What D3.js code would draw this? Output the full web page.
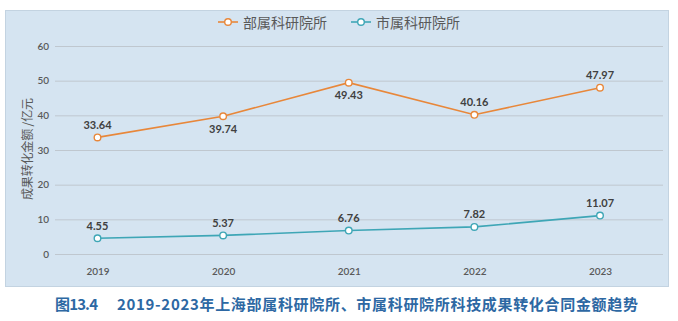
<!DOCTYPE html>
<html><head><meta charset="utf-8">
<script src="https://cdn.jsdelivr.net/npm/d3@7"></script>
<style>body{margin:0;background:#fff;}svg{display:block;}</style>
</head><body>
<svg id="c" width="678" height="321"></svg>
<script>
const years = ["2019","2020","2021","2022","2023"];
const ministryValues = [33.64, 39.74, 49.43, 40.16, 47.97];
const municipalValues = [4.55, 5.37, 6.76, 7.82, 11.07];
const seriesNames = ["部属科研院所", "市属科研院所"];
const yTicks = [0,10,20,30,40,50,60];
const yTitle = "成果转化金额 /亿元";
const captionNo = "图13.4";
const caption = "2019-2023年上海部属科研院所、市属科研院所科技成果转化合同金额趋势";
const ministryLabelPos = ["above","below","below","above","above"];

const svg = d3.select("#c");
const font = "'Noto Sans CJK SC', 'Open Sans', sans-serif";
const numFont = "Lato, 'Open Sans', sans-serif";
const orange = "#e8873a", teal = "#3ea6b6";

svg.append("rect").attr("x",5.5).attr("y",10.5).attr("width",663).attr("height",276)
  .attr("fill","#d5e4f1").attr("stroke","#c3d3e1");

const x = d3.scalePoint().domain(years).range([97.5, 600]);
const y = d3.scaleLinear().domain([0,60]).range([254,46]);

// gridlines
svg.append("g").selectAll("line").data(yTicks).join("line")
  .attr("x1",55).attr("x2",663).attr("y1",d=>y(d)+0.5).attr("y2",d=>y(d)+0.5)
  .attr("stroke","#bfc7cf").attr("stroke-width",1);

// y axis
const ya = svg.append("g").attr("transform","translate(49,0)")
  .call(d3.axisLeft(y).tickValues(yTicks).tickSize(0).tickPadding(0));
ya.select(".domain").remove();
ya.selectAll("text").attr("font-family",numFont).attr("font-size",10).attr("font-weight",600).attr("fill","#595959");

// x axis
const xa = svg.append("g").attr("transform","translate(0,268)")
  .call(d3.axisBottom(x).tickSize(0).tickPadding(0));
xa.select(".domain").remove();
xa.selectAll("text").attr("font-family",numFont).attr("font-size",10).attr("font-weight",600).attr("fill","#595959");

// y title
svg.append("text").attr("transform","translate(26,149) rotate(-90)")
  .attr("text-anchor","middle").attr("dominant-baseline","central")
  .attr("font-family",font).attr("font-size",12).attr("fill","#595959")
  .attr("textLength",102).attr("lengthAdjust","spacing").text(yTitle);

const line = d3.line().x((d,i)=>x(years[i])).y(d=>y(d));
function drawSeries(vals,color,pos){
  svg.append("path").datum(vals).attr("d",line).attr("fill","none").attr("stroke",color).attr("stroke-width",1.6);
  svg.append("g").selectAll("circle").data(vals).join("circle")
    .attr("cx",(d,i)=>x(years[i])).attr("cy",d=>y(d)).attr("r",3.3)
    .attr("fill","#fff").attr("stroke",color).attr("stroke-width",1.4);
  svg.append("g").selectAll("text").data(vals).join("text")
    .attr("x",(d,i)=>x(years[i])).attr("y",(d,i)=>y(d)+(pos[i]==="above"?-13:12))
    .attr("text-anchor","middle").attr("dominant-baseline","central")
    .attr("font-family",numFont).attr("font-size",11).attr("font-weight",700).attr("fill","#404040")
    .text(d=>d.toFixed(2));
}
drawSeries(ministryValues,orange,ministryLabelPos);
drawSeries(municipalValues,teal,years.map(()=>"above"));

// legend
const legend = [{name:seriesNames[0],color:orange,x:218},{name:seriesNames[1],color:teal,x:351}];
const lg = svg.append("g");
legend.forEach(l=>{
  lg.append("line").attr("x1",l.x).attr("x2",l.x+20).attr("y1",22).attr("y2",22).attr("stroke",l.color).attr("stroke-width",1.6);
  lg.append("circle").attr("cx",l.x+10).attr("cy",22).attr("r",3.3).attr("fill","#fff").attr("stroke",l.color).attr("stroke-width",1.4);
  lg.append("text").attr("x",l.x+25).attr("y",22).attr("dominant-baseline","central")
    .attr("font-family",font).attr("font-size",14).attr("fill","#595959").text(l.name);
});

// caption
const cap = svg.append("g").attr("font-family",font).attr("font-size",15).attr("font-weight",700).attr("fill","#2d68a3");
cap.append("text").attr("x",55).attr("y",303).attr("dominant-baseline","central")
  .attr("textLength",43).attr("lengthAdjust","spacing").text(captionNo);
cap.append("text").attr("x",117).attr("y",303).attr("dominant-baseline","central")
  .attr("textLength",521).attr("lengthAdjust","spacing").text(caption);
</script>
</body></html>
